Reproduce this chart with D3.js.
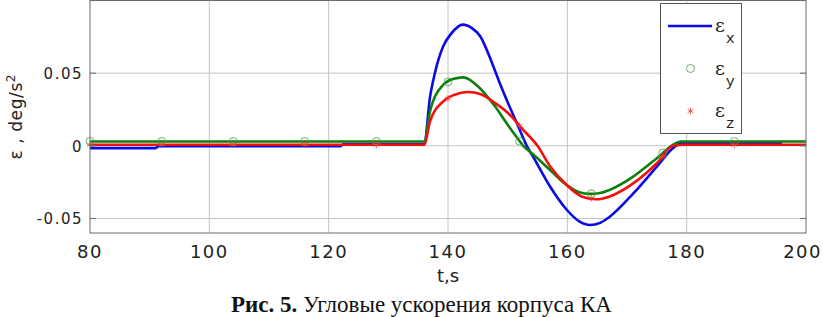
<html>
<head>
<meta charset="utf-8">
<title>Angular accelerations</title>
<script src="https://cdn.jsdelivr.net/npm/d3@7"></script>
<style>
body { margin:0; background:#fff; }
svg { display:block; }
</style>
</head>
<body>
<div id="chart"></div>
<script>
// t, s and eps (deg/s^2)
var tX = [80, 91, 91.5, 122, 122.5, 136, 137, 137.8, 139.2, 140.5, 142.5, 144, 145.4, 147, 148.5, 150, 151.5, 153.2, 154.3, 157.1, 159.9, 162, 163.8, 165.5, 167.1, 171.1, 175, 177.8, 179.2, 196];
var epsX = [-0.0016, -0.0016, -0.0002, -0.0002, 0.0012, 0.0012, 0.034, 0.05, 0.0685, 0.077, 0.0834, 0.081, 0.0754, 0.061, 0.045, 0.03, 0.016, 0, -0.0078, -0.028, -0.044, -0.052, -0.0545, -0.053, -0.0488, -0.0326, -0.0143, -0.0013, 0.002, 0.002];

var tY = [80, 136, 137, 139.2, 140.8, 142.6, 145, 147.9, 150, 151.5, 152.5, 154.3, 157.1, 159.9, 162, 163.8, 165.5, 167.1, 171.1, 175, 177.7, 178.9, 200];
var epsY = [0.003, 0.003, 0.024, 0.042, 0.046, 0.0471, 0.041, 0.027, 0.0145, 0.006, 0.0005, -0.006, -0.0166, -0.027, -0.032, -0.0331, -0.0325, -0.0303, -0.021, -0.0085, 0.0007, 0.003, 0.003];

var tZ = [80, 136, 137, 139.2, 141, 143.4, 145.5, 147.9, 150, 152.6, 155, 157.1, 159.9, 162.5, 164.9, 167, 171.1, 175, 177.7, 179.4, 200];
var epsZ = [0.0007, 0.0007, 0.017, 0.0306, 0.035, 0.037, 0.0355, 0.0294, 0.0228, 0.011, 0, -0.014, -0.027, -0.035, -0.0368, -0.035, -0.0257, -0.012, 0, 0.0007, 0.0007];

var markerT = [80, 92, 104, 116, 128, 140, 152, 164, 176, 188];
var xTicks = [80, 100, 120, 140, 160, 180, 200];
var yTicks = [-0.05, 0, 0.05];

var W = 823, H = 317;
var m = {left: 90, right: 17, top: 0.5, bottom: 84};

var svg = d3.select("#chart").append("svg")
  .attr("width", W).attr("height", H);

var x = d3.scaleLinear().domain([80, 200]).range([m.left, W - m.right]);
var y = d3.scaleLinear().domain([-0.06, 0.1]).range([H - m.bottom, m.top]);

// grid
svg.append("g").selectAll("line").data(xTicks.slice(1, -1)).enter().append("line")
  .attr("x1", d => x(d)).attr("x2", d => x(d))
  .attr("y1", y(0.1)).attr("y2", y(-0.06))
  .attr("stroke", "#c4c4c4").attr("stroke-width", 1);
svg.append("g").selectAll("line").data(yTicks).enter().append("line")
  .attr("x1", x(80)).attr("x2", x(200))
  .attr("y1", d => y(d)).attr("y2", d => y(d))
  .attr("stroke", "#c4c4c4").attr("stroke-width", 1);

// series
var series = [
  {t: tX, v: epsX, color: "#0a0ae6"},
  {t: tY, v: epsY, color: "#0c800c"},
  {t: tZ, v: epsZ, color: "#f01010"}
];
var line = d3.line()
  .x(d => x(d[0])).y(d => y(d[1]))
  .curve(d3.curveMonotoneX);

series.forEach(function(s) {
  svg.append("path")
    .datum(s.t.map((t, i) => [t, s.v[i]]))
    .attr("d", line)
    .attr("fill", "none")
    .attr("stroke", s.color)
    .attr("stroke-width", 2.6)
    .attr("stroke-linejoin", "round");
});

function valueAt(ts, vs, t) {
  var i = d3.bisectRight(ts, t);
  if (i <= 0) return vs[0];
  if (i >= ts.length) return vs[vs.length - 1];
  var k = (t - ts[i - 1]) / (ts[i] - ts[i - 1]);
  return vs[i - 1] + k * (vs[i] - vs[i - 1]);
}

var star = d3.symbol().type(d3.symbolAsterisk).size(30);

// markers
svg.append("g").selectAll("circle").data(markerT).enter().append("circle")
  .attr("cx", d => x(d)).attr("cy", d => y(valueAt(tY, epsY, d)))
  .attr("r", 4).attr("fill", "none")
  .attr("stroke", "#4a9a4a").attr("stroke-width", 0.8);
svg.append("g").selectAll("path").data(markerT).enter().append("path")
  .attr("transform", d => "translate(" + x(d) + "," + y(valueAt(tZ, epsZ, d)) + ")")
  .attr("d", star)
  .attr("fill", "none").attr("stroke", "#f03a3a").attr("stroke-width", 0.8);

// box + inner ticks
svg.append("rect")
  .attr("x", x(80)).attr("y", y(0.1))
  .attr("width", x(200) - x(80)).attr("height", y(-0.06) - y(0.1))
  .attr("fill", "none").attr("stroke", "#6a6a6a").attr("stroke-width", 1);
yTicks.forEach(function(v) {
  svg.append("line").attr("x1", x(200) - 6).attr("x2", x(200))
    .attr("y1", y(v)).attr("y2", y(v)).attr("stroke", "#6a6a6a");
  svg.append("line").attr("x1", x(80)).attr("x2", x(80) + 6)
    .attr("y1", y(v)).attr("y2", y(v)).attr("stroke", "#6a6a6a");
});

// tick labels (the last one is pulled in so it stays on the page)
svg.append("g").selectAll("text").data(xTicks).enter().append("text")
  .attr("x", d => d === 200 ? W - 1 : x(d)).attr("y", 258)
  .attr("text-anchor", d => d === 200 ? "end" : "middle")
  .attr("font-family", "DejaVu Sans")
  .attr("font-size", 18).attr("letter-spacing", 1.5)
  .attr("fill", "#222")
  .text(d => d);
svg.append("g").selectAll("text").data(yTicks).enter().append("text")
  .attr("x", 83).attr("y", d => y(d) + 6)
  .attr("text-anchor", "end")
  .attr("font-family", "DejaVu Sans")
  .attr("font-size", 15).attr("letter-spacing", 1.5)
  .attr("fill", "#222")
  .text(d => d === 0 ? "0" : d3.format(".2f")(d).replace("−", "-"));

// axis titles
svg.append("text")
  .attr("x", x(140)).attr("y", 282)
  .attr("text-anchor", "middle")
  .attr("font-family", "DejaVu Sans").attr("font-size", 18)
  .attr("fill", "#222")
  .text("t,s");

var yl = svg.append("text")
  .attr("transform", "translate(22," + y(0.02) + ") rotate(-90)")
  .attr("text-anchor", "middle")
  .attr("font-family", "DejaVu Sans").attr("font-size", 17)
  .attr("letter-spacing", 0.6)
  .attr("fill", "#222");
yl.append("tspan").text("ε , deg/s");
yl.append("tspan").attr("dy", -7).attr("font-size", 12).text("2");

// legend
var lg = svg.append("g");
lg.append("rect").attr("x", 660.5).attr("y", 3.5).attr("width", 81).attr("height", 130)
  .attr("fill", "#fff").attr("stroke", "#555").attr("stroke-width", 1);
var items = [
  {name: "x", color: "#0a0ae6", kind: "line"},
  {name: "y", color: "#4a9a4a", kind: "circle"},
  {name: "z", color: "#f03a3a", kind: "star"}
];
items.forEach(function(it, i) {
  var cy = 26 + i * 42.5;
  if (it.kind === "line") {
    lg.append("line").attr("x1", 668).attr("x2", 712).attr("y1", cy).attr("y2", cy)
      .attr("stroke", it.color).attr("stroke-width", 2.6);
  } else if (it.kind === "circle") {
    lg.append("circle").attr("cx", 690.5).attr("cy", cy).attr("r", 4)
      .attr("fill", "none").attr("stroke", it.color).attr("stroke-width", 0.8);
  } else {
    lg.append("path").attr("transform", "translate(690.5," + cy + ")").attr("d", star)
      .attr("fill", "none").attr("stroke", it.color).attr("stroke-width", 0.8);
  }
  var tx = lg.append("text").attr("x", 715).attr("y", cy + 6)
    .attr("font-family", "DejaVu Serif").attr("font-size", 19).attr("fill", "#222");
  tx.append("tspan").text("ε");
  tx.append("tspan").attr("dy", 11).attr("dx", 1).attr("font-family", "Liberation Mono").attr("font-size", 15).text(it.name);
});

// caption
var cap = svg.append("text")
  .attr("x", 421.5).attr("y", 311.5)
  .attr("text-anchor", "middle")
  .attr("font-family", "Liberation Serif").attr("font-size", 23)
  .attr("fill", "#111");
cap.append("tspan").attr("font-weight", "bold").text("Рис. 5.");
cap.append("tspan").text(" Угловые ускорения корпуса КА");
</script>
</body>
</html>
